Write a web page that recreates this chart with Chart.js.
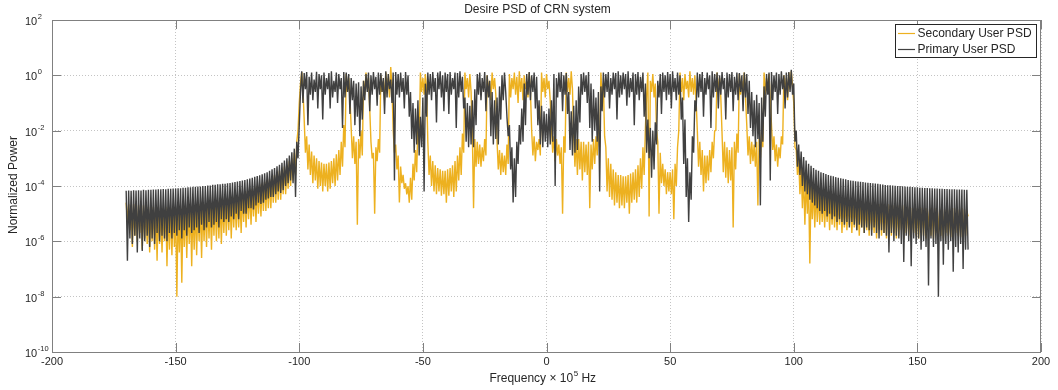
<!DOCTYPE html>
<html>
<head>
<meta charset="utf-8">
<script src="https://cdn.jsdelivr.net/npm/chart.js@4.4.1/dist/chart.umd.min.js"></script>
<style>
    html, body { margin: 0; padding: 0; background: #ffffff; }
    #contenedor { width: 1058px; height: 390px; position: relative; }
</style>
</head>
<body>
<div id="contenedor"><canvas id="psd"></canvas></div>
<script>
// valores, en log10 de la potencia normalizada
// picos: cresta de la traza en cada f entera (x 10^5 Hz), valles: fondo de la traza en f + 0.5
var freqStart = -170;

var freqTicks = [-200, -150, -100, -50, 0, 50, 100, 150, 200];
var powerTicks = [-10, -8, -6, -4, -2, 0, 2];

var seriesLabels = ['Secondary User PSD', 'Primary User PSD'];

//SECUNDARIO
var secondaryPeaks = [
    -4.6, -4.65, -4.7, -4.65, -4.7, -4.7, -4.75, -4.7, -4.75, -4.75,      // -170
    -4.7, -4.75, -4.8, -4.75, -4.8, -4.8, -4.75, -4.8, -4.8, -4.75,       // -160
    -4.8, -4.75, -4.8, -4.75, -4.75, -4.7, -4.75, -4.7, -4.7, -4.7,       // -150
    -4.65, -4.65, -4.65, -4.6, -4.6, -4.6, -4.55, -4.55, -4.5, -4.5,      // -140
    -4.45, -4.45, -4.4, -4.4, -4.35, -4.35, -4.3, -4.3, -4.25, -4.2,      // -130
    -4.15, -4.1, -4.05, -4.0, -3.95, -3.9, -3.85, -3.8, -3.75, -3.7,      // -120
    -3.6, -3.55, -3.45, -3.4, -3.3, -3.25, -3.1, -3.0, -2.8, -2.4,        // -110
    -1.0, 0.12, -1.6, -2.2, -2.5, -2.75, -2.9, -3.0, -3.1, -3.15,         // -100
    -3.2, -3.2, -3.15, -3.1, -3.0, -2.85, -2.7, -2.4, -1.8, 0.05,         // -90
    -0.1, -1.9, -2.2, -2.4, -2.3, -2.0, -0.2, 0.1, -0.1, -2.4,            // -80
    -2.8, -2.6, -2.3, 0.0, -0.2, 0.1, -0.1, 0.3, -2.0, -2.5,              // -70
    -2.9, -3.3, -3.6, -3.9, -4.0, -3.7, -3.2, -2.7, -1.8, 0.1,            // -60
    -0.1, 0.05, -2.4, -2.9, -3.1, -3.25, -3.35, -3.4, -3.45, -3.45,       // -50
    -3.4, -3.35, -3.25, -3.1, -2.9, -2.6, -2.1, 0.1, -0.1, 0.05,          // -40
    -2.1, -2.3, -2.4, -2.5, -2.6, -2.3, 0.0, -0.2, 0.1, -0.1,             // -30
    -2.4, -2.7, -2.8, -2.9, -2.5, 0.05, -0.1, 0.1, -0.05, 0.15,           // -20
    -0.1, 0.0, -0.2, 0.1, -2.0, -2.2, -2.4, -2.3, 0.1, -0.1,              // -10
    0.05, -0.2, -1.9, -2.2, -2.3, -2.5, -2.6, -2.2, 0.1, -0.1,            // 0
    0.15, -2.2, -2.3, -2.3, -2.4, -2.4, -2.5, -2.4, -2.5, -2.3,           // 10
    -2.2, -1.8, 0.1, -0.3, -2.6, -3.0, -3.2, -3.4, -3.5, -3.6,            // 20
    -3.6, -3.65, -3.65, -3.6, -3.55, -3.5, -3.4, -3.25, -3.0, -2.6,       // 30
    -1.9, 0.1, -0.2, 0.05, -0.3, -2.4, -2.8, -3.2, -3.4, -3.5,            // 40
    -3.5, -3.4, -3.2, -2.6, 0.1, -0.1, 0.05, -0.2, 0.15, -0.1,            // 50
    0.0, -2.0, -2.4, -2.7, -2.9, -2.9, -2.7, -2.4, -2.0, 0.1,             // 60
    -0.1, -2.1, -2.4, -2.6, -2.7, -2.6, -2.4, -2.1, 0.05, -0.2,           // 70
    0.1, -1.8, -2.2, -2.4, -2.5, -2.4, -2.3, -2.0, 0.1, -0.1,             // 80
    0.05, -1.8, -2.2, -2.5, -2.6, -2.2, 0.0, -0.1, 0.1, 0.15,             // 90
    -1.0, -2.7, -3.0, -3.3, -3.6, -3.7, -3.85, -3.9, -4.0, -4.1,          // 100
    -4.2, -4.25, -4.3, -4.3, -4.35, -4.4, -4.4, -4.45, -4.45, -4.45,      // 110
    -4.5, -4.5, -4.5, -4.55, -4.5, -4.55, -4.55, -4.6, -4.55, -4.6,       // 120
    -4.6, -4.6, -4.65, -4.6, -4.65, -4.65, -4.65, -4.7, -4.65, -4.7,      // 130
    -4.7, -4.7, -4.7, -4.75, -4.7, -4.75, -4.75, -4.75, -4.8, -4.75,      // 140
    -4.8, -4.75, -4.8, -4.8, -4.8, -4.8, -4.85, -4.8, -4.8, -4.85,        // 150
    -4.8, -4.85, -4.8, -4.85, -4.85, -4.8, -4.85, -4.85, -4.8, -4.85,     // 160
    -4.9                                                                   // 170
];
var secondaryDips = [
    -5.3, -5.6, -6.2, -5.8, -6.0, -5.7, -6.3, -5.9, -6.1, -6.4,           // -170
    -6.0, -6.3, -6.7, -6.1, -6.4, -6.0, -6.9, -6.3, -6.5, -6.2,           // -160
    -8.0, -6.4, -7.5, -6.2, -6.6, -6.1, -6.9, -6.3, -6.5, -6.0,           // -150
    -6.6, -6.0, -6.2, -5.9, -6.3, -5.8, -6.0, -5.9, -6.1, -5.7,           // -140
    -5.8, -5.6, -5.9, -5.5, -5.6, -5.5, -5.7, -5.3, -5.5, -5.2,           // -130
    -5.4, -5.1, -5.3, -5.0, -5.1, -4.9, -4.9, -4.8, -4.8, -4.6,           // -120
    -4.6, -4.5, -4.5, -4.3, -4.3, -4.1, -4.0, -3.8, -3.6, -2.0,           // -110
    -0.3, -0.5, -2.8, -3.4, -3.6, -3.9, -3.8, -4.1, -4.0, -4.2,           // -100
    -4.0, -4.2, -4.1, -3.9, -4.0, -3.8, -3.6, -3.3, -2.6, -0.6,           // -90
    -0.8, -3.0, -3.2, -5.4, -3.0, -2.9, -0.7, -0.5, -1.2, -3.0,           // -80
    -5.0, -3.1, -2.8, -0.6, -0.9, -0.5, -0.8, -0.4, -2.8, -3.4,           // -70
    -4.6, -3.9, -4.1, -4.3, -4.6, -4.5, -3.8, -3.5, -2.5, -0.6,           // -60
    -0.7, -0.5, -3.6, -4.0, -4.2, -4.3, -4.2, -4.35, -4.3, -4.6,          // -50
    -4.35, -4.2, -4.4, -4.2, -3.8, -3.6, -2.8, -0.5, -0.8, -0.6,          // -40
    -4.8, -3.3, -3.2, -3.3, -3.1, -2.9, -0.6, -0.9, -0.5, -0.7,           // -30
    -3.4, -3.6, -3.5, -3.6, -3.2, -0.8, -0.5, -0.7, -1.0, -0.6,           // -20
    -0.9, -0.5, -0.8, -0.6, -2.9, -3.1, -2.7, -2.9, -0.6, -0.8,           // -10
    -0.5, -0.9, -2.8, -3.1, -2.9, -3.2, -5.0, -2.8, -0.6, -0.7,           // 0
    -0.5, -3.3, -3.6, -3.4, -3.8, -3.5, -3.6, -4.8, -3.4, -3.2,           // 10
    -2.9, -2.6, -0.9, -2.2, -4.2, -4.4, -4.5, -4.7, -4.6, -4.8,           // 20
    -4.7, -4.8, -4.6, -5.0, -4.6, -4.5, -4.6, -4.4, -4.1, -3.6,           // 30
    -0.7, -5.1, -0.6, -0.8, -2.0, -5.0, -3.9, -4.0, -4.3, -4.2,           // 40
    -4.3, -5.2, -4.0, -2.0, -0.6, -0.9, -0.5, -0.8, -0.6, -0.7,           // 50
    -0.9, -3.3, -3.6, -4.2, -3.9, -3.8, -3.5, -3.0, -2.0, -0.6,           // 60
    -0.8, -3.5, -3.7, -3.9, -3.8, -5.5, -3.4, -2.8, -0.7, -0.6,           // 70
    -0.8, -2.9, -3.2, -3.1, -3.3, -4.7, -3.0, -2.6, -0.7, -0.5,           // 80
    -0.9, -2.7, -3.1, -3.3, -3.0, -2.5, -0.6, -0.9, -0.5, -0.4,           // 90
    -2.6, -3.6, -4.3, -4.8, -5.4, -5.0, -6.8, -5.2, -5.5, -5.3,           // 100
    -5.4, -5.3, -5.5, -5.3, -5.6, -5.4, -5.5, -5.6, -5.4, -5.7,           // 110
    -5.5, -5.6, -5.4, -5.7, -5.5, -5.6, -5.8, -5.5, -5.7, -5.6,           // 120
    -5.8, -5.6, -5.7, -5.9, -5.6, -5.8, -5.7, -5.9, -5.6, -5.8,           // 130
    -5.7, -5.9, -5.8, -5.6, -5.9, -5.7, -5.8, -5.9, -5.7, -5.8,           // 140
    -5.9, -5.7, -5.8, -5.9, -5.6, -5.8, -5.9, -5.7, -5.85, -5.8,          // 150
    -5.9, -5.7, -5.8, -5.85, -5.9, -5.7, -5.8, -5.85, -5.9, -5.8,         // 160
    -5.1                                                                   // 170
];

//PRIMARIO
var primaryPeaks = [
    -4.17, -4.16, -4.17, -4.15, -4.16, -4.15, -4.16, -4.14, -4.15, -4.14, // -170
    -4.14, -4.13, -4.13, -4.12, -4.12, -4.11, -4.12, -4.10, -4.10, -4.09, // -160
    -4.09, -4.08, -4.08, -4.06, -4.06, -4.05, -4.05, -4.03, -4.03, -4.02, // -150
    -4.02, -4.00, -4.00, -3.98, -3.98, -3.96, -3.96, -3.94, -3.94, -3.92, // -140
    -3.92, -3.90, -3.89, -3.87, -3.86, -3.84, -3.82, -3.80, -3.78, -3.76, // -130
    -3.73, -3.70, -3.67, -3.64, -3.61, -3.58, -3.54, -3.50, -3.45, -3.40, // -120
    -3.35, -3.29, -3.23, -3.16, -3.08, -3.00, -2.90, -2.78, -2.65, -2.40, // -110
    -1.8, 0.15, 0.08, 0.12, -0.05, 0.1, -0.15, 0.13, 0.05, 0.0,           // -100
    0.1, -0.1, 0.08, 0.15, -0.2, 0.1, 0.05, -0.1, 0.12, 0.1,              // -90
    0.05, -0.1, -0.2, -0.3, -0.25, -0.4, -0.2, 0.05, 0.1, 0.0,            // -80
    0.12, -0.05, 0.1, 0.08, -0.1, 0.15, 0.05, -0.15, 0.1, 0.12,           // -70
    0.05, 0.1, -0.1, 0.12, 0.0, -0.6, -1.0, -1.2, -0.9, -1.5,             // -60
    -0.8, -0.3, 0.1, 0.05, 0.12, -0.1, 0.1, 0.15, 0.0, 0.1,               // -50
    0.05, 0.12, -0.1, 0.1, 0.08, 0.15, -0.05, -0.8, -1.0, -1.1,           // -40
    -0.9, -0.5, 0.05, 0.1, -0.1, 0.12, 0.0, -0.2, -0.6, -0.9,             // -30
    -0.8, -0.4, 0.0, 0.1, -1.5, -1.8, -2.6, -3.0, -2.4, -1.8,             // -20
    -1.2, -0.3, 0.05, 0.12, 0.0, 0.1, -0.05, -0.9, -1.1, -1.3,            // -10
    -1.4, -1.2, -0.9, 0.05, -0.1, 0.1, 0.12, 0.0, 0.08, -0.6,             // 0
    -1.3, -1.1, -0.9, -0.4, 0.05, 0.1, 0.0, 0.12, -0.3, -0.5,             // 10
    -0.8, -0.6, -0.4, 0.1, 0.05, 0.12, -0.1, 0.1, 0.08, 0.15,             // 20
    0.0, 0.1, 0.05, 0.15, -0.1, 0.1, 0.05, 0.12, -0.05, 0.1,              // 30
    -0.3, -1.6, -1.9, -2.0, -1.7, -0.2, 0.05, 0.1, 0.0, 0.12,             // 40
    0.05, 0.15, -0.1, 0.1, 0.0, -0.8, -1.6, -3.0, -3.5, -2.2,             // 50
    -0.9, 0.1, 0.05, 0.12, -0.1, 0.1, 0.0, 0.15, 0.05, 0.1,               // 60
    0.0, 0.12, -0.1, 0.1, 0.05, 0.12, -0.05, 0.1, 0.08, 0.0,              // 70
    0.1, 0.05, -0.2, -0.6, -0.9, -0.7, -1.0, -0.8, -0.4, 0.05,            // 80
    0.1, 0.12, 0.0, 0.1, 0.05, 0.15, 0.0, 0.1, 0.12, 0.2,                 // 90
    -0.3, -2.0, -2.5, -2.75, -2.95, -3.08, -3.2, -3.27, -3.35, -3.41,     // 100
    -3.45, -3.5, -3.53, -3.57, -3.6, -3.63, -3.65, -3.68, -3.7, -3.72,    // 110
    -3.74, -3.76, -3.78, -3.8, -3.81, -3.83, -3.84, -3.85, -3.86, -3.87,  // 120
    -3.88, -3.89, -3.9, -3.91, -3.92, -3.94, -3.95, -3.96, -3.97, -3.97,  // 130
    -3.98, -3.99, -4.0, -4.0, -4.01, -4.02, -4.03, -4.03, -4.04, -4.05,   // 140
    -4.05, -4.06, -4.06, -4.07, -4.07, -4.08, -4.08, -4.09, -4.09, -4.1,  // 150
    -4.1, -4.11, -4.11, -4.12, -4.12, -4.12, -4.13, -4.13, -4.13, -4.14,  // 160
    -4.14                                                                  // 170
];
var primaryDips = [
    -6.7, -5.9, -6.1, -5.8, -6.4, -5.9, -6.35, -6.0, -5.8, -6.2,          // -170
    -5.9, -6.1, -5.7, -6.0, -5.8, -5.9, -6.0, -5.7, -5.9, -5.7,           // -160
    -5.8, -5.6, -5.9, -5.6, -5.8, -5.5, -5.7, -5.6, -5.5, -5.7,           // -150
    -5.4, -5.6, -5.5, -5.3, -5.5, -5.4, -5.3, -5.5, -5.2, -5.3,           // -140
    -5.2, -5.3, -5.1, -5.2, -5.0, -5.2, -4.9, -5.0, -5.0, -4.8,           // -130
    -4.8, -4.85, -4.7, -4.6, -4.65, -4.6, -4.5, -4.45, -4.4, -4.4,        // -120
    -4.3, -4.2, -4.25, -4.15, -4.0, -3.9, -3.8, -3.9, -4.4, -3.0,         // -110
    -0.6, -1.0, -0.5, -1.8, -0.7, -0.9, -0.6, -1.2, -0.5, -1.6,           // -100
    -0.7, -0.5, -1.2, -0.8, -0.6, -1.0, -0.5, -1.9, -0.8, -0.6,           // -90
    -1.4, -0.9, -1.8, -1.5, -2.2, -1.6, -0.9, -0.6, -1.3, -0.7,           // -80
    -0.5, -1.1, -0.7, -0.6, -1.4, -0.8, -0.5, -1.0, -3.8, -0.7,           // -70
    -0.8, -0.6, -1.2, -0.7, -1.5, -2.3, -2.8, -2.5, -2.9, -2.6,           // -60
    -4.2, -1.5, -0.7, -0.9, -0.6, -1.7, -0.5, -0.8, -1.3, -0.6,           // -50
    -1.4, -0.7, -0.5, -1.9, -0.8, -0.6, -1.2, -2.4, -2.6, -2.5,           // -40
    -2.6, -1.8, -0.7, -0.9, -0.6, -1.3, -0.8, -2.2, -2.5, -2.3,           // -30
    -2.5, -1.6, -0.9, -0.6, -2.2, -3.4, -4.6, -4.4, -3.2, -2.5,           // -20
    -2.4, -1.8, -0.7, -0.9, -0.6, -1.2, -1.8, -2.5, -2.6, -2.4,           // -10
    -2.6, -2.5, -2.4, -4.0, -0.8, -0.6, -1.3, -0.7, -1.4, -2.7,           // 0
    -2.9, -2.8, -2.7, -1.7, -0.7, -0.6, -1.0, -1.9, -2.4, -2.0,           // 10
    -2.4, -4.2, -1.3, -0.8, -0.6, -1.2, -0.7, -0.5, -1.6, -0.8,           // 20
    -0.7, -0.5, -1.1, -0.8, -0.6, -1.8, -0.7, -0.9, -0.6, -1.5,           // 30
    -2.8, -3.0, -3.7, -3.4, -2.5, -0.8, -1.4, -0.6, -0.9, -0.7,           // 40
    -1.2, -0.6, -0.9, -0.7, -1.6, -3.2, -4.4, -5.3, -4.5, -2.8,           // 50
    -1.3, -0.8, -0.6, -1.5, -0.7, -0.5, -1.9, -0.8, -0.6, -1.2,           // 60
    -0.7, -0.5, -1.6, -0.8, -0.6, -1.3, -0.7, -0.9, -0.6, -1.3,           // 70
    -0.8, -1.4, -1.9, -2.2, -2.6, -2.3, -4.7, -2.4, -1.5, -0.7,           // 80
    -3.8, -0.9, -0.6, -1.4, -0.7, -0.5, -1.2, -0.8, -0.6, -0.7,           // 90
    -2.4, -3.3, -3.6, -4.0, -4.2, -4.3, -4.5, -4.6, -4.7, -4.8,           // 100
    -4.9, -5.0, -4.9, -5.1, -5.0, -5.2, -5.1, -5.3, -5.2, -5.3,           // 110
    -5.4, -5.3, -5.5, -5.3, -5.4, -5.6, -5.4, -5.5, -5.7, -5.5,           // 120
    -5.6, -5.8, -5.5, -5.7, -5.9, -5.6, -5.7, -5.8, -6.4, -5.7,           // 130
    -6.0, -5.8, -5.9, -6.1, -6.75, -5.8, -6.0, -6.9, -5.9, -6.1,          // 140
    -5.9, -6.3, -6.0, -6.2, -7.6, -5.9, -6.2, -6.1, -8.0, -6.0,           // 150
    -6.85, -6.1, -6.3, -6.0, -7.1, -6.2, -6.4, -6.1, -7.0, -6.3,          // 160
    -6.3                                                                   // 170
];

var fuente = '"Liberation Sans", Arial, Helvetica, sans-serif';
var colorTexto = '#262626';

// cresta en f, valle en f + 0.5
function traza(inicio, picos, valles) {
    var puntos = [];
    for (var i = 0; i < picos.length; i++) {
        puntos.push({ x: inicio + i, y: Math.pow(10, picos[i]) });
        if (valles[i] !== undefined) {
            puntos.push({ x: inicio + i + 0.5, y: Math.pow(10, valles[i]) });
        }
    }
    return puntos;
}

var secundario = traza(freqStart, secondaryPeaks, secondaryDips);
var primario = traza(freqStart, primaryPeaks, primaryDips);

// marco, marcas hacia dentro, textos y leyenda estilo MATLAB
var decoracion = {
    id: 'decoracion',
    afterDraw: function (chart) {
        var ctx = chart.ctx;
        var a = chart.chartArea;
        var sx = chart.scales.x;
        var sy = chart.scales.y;
        var i, p;
        ctx.save();

        ctx.strokeStyle = '#808080';
        ctx.lineWidth = 1;
        ctx.strokeRect(a.left + 0.5, a.top + 0.5, a.right - a.left - 1, a.bottom - a.top);
        ctx.beginPath();
        for (i = 0; i < freqTicks.length; i++) {
            p = Math.round(sx.getPixelForValue(freqTicks[i])) + 0.5;
            ctx.moveTo(p, a.bottom); ctx.lineTo(p, a.bottom - 9);
            ctx.moveTo(p, a.top); ctx.lineTo(p, a.top + 9);
        }
        for (i = 0; i < powerTicks.length; i++) {
            p = Math.round(sy.getPixelForValue(Math.pow(10, powerTicks[i]))) + 0.5;
            ctx.moveTo(a.left, p); ctx.lineTo(a.left + 9, p);
            ctx.moveTo(a.right, p); ctx.lineTo(a.right - 9, p);
        }
        ctx.stroke();

        // etiquetas del eje y con exponente
        ctx.fillStyle = colorTexto;
        ctx.textAlign = 'left';
        ctx.textBaseline = 'alphabetic';
        for (i = 0; i < powerTicks.length; i++) {
            p = sy.getPixelForValue(Math.pow(10, powerTicks[i]));
            ctx.font = '11px ' + fuente;
            ctx.fillText('10', 25, p + 5);
            var w10 = ctx.measureText('10').width;
            ctx.font = '7.5px ' + fuente;
            ctx.fillText(String(powerTicks[i]), 25 + w10 + 0.5, p - 1);
        }

        // titulo
        var centro = (a.left + a.right) / 2;
        ctx.font = '12px ' + fuente;
        ctx.textAlign = 'center';
        ctx.textBaseline = 'middle';
        ctx.fillText('Desire PSD of CRN system', centro - 9, 9.5);

        // etiqueta eje x
        ctx.textAlign = 'left';
        ctx.textBaseline = 'alphabetic';
        var t1 = 'Frequency \u00d7 10', t3 = ' Hz';
        ctx.font = '12px ' + fuente;
        var w1 = ctx.measureText(t1).width, w3 = ctx.measureText(t3).width;
        ctx.font = '8px ' + fuente;
        var w2 = ctx.measureText('5').width;
        var x0 = centro - 4 - (w1 + w2 + w3) / 2;
        ctx.font = '12px ' + fuente;
        ctx.fillText(t1, x0, 382);
        ctx.font = '8px ' + fuente;
        ctx.fillText('5', x0 + w1 + 0.5, 376);
        ctx.font = '12px ' + fuente;
        ctx.fillText(t3, x0 + w1 + w2 + 0.5, 382);

        // etiqueta eje y
        ctx.save();
        ctx.translate(14, (a.top + a.bottom) / 2 - 1);
        ctx.rotate(-Math.PI / 2);
        ctx.textAlign = 'center';
        ctx.textBaseline = 'middle';
        ctx.fillText('Normalized Power', 0, 0);
        ctx.restore();

        // leyenda
        var lw = 141, lh = 33;
        var lx = a.right - 5 - lw, ly = a.top + 4;
        ctx.fillStyle = '#ffffff';
        ctx.fillRect(lx, ly, lw, lh);
        ctx.strokeStyle = '#262626';
        ctx.lineWidth = 1;
        ctx.strokeRect(lx + 0.5, ly + 0.5, lw, lh);
        ctx.font = '12px ' + fuente;
        ctx.textBaseline = 'middle';
        ctx.textAlign = 'left';
        var ds = chart.data.datasets;
        for (i = 0; i < ds.length; i++) {
            var yy = ly + 9 + i * 16;
            ctx.strokeStyle = ds[i].borderColor;
            ctx.lineWidth = 1.2;
            ctx.beginPath();
            ctx.moveTo(lx + 3, yy + 0.5);
            ctx.lineTo(lx + 20, yy + 0.5);
            ctx.stroke();
            ctx.fillStyle = colorTexto;
            ctx.fillText(ds[i].label, lx + 22.5, yy + 0.5);
        }
        ctx.restore();
    }
};

Chart.defaults.font.family = fuente;

var grafico = new Chart(document.getElementById('psd'), {
    type: 'line',
    data: {
        datasets: [{
            label: seriesLabels[0],
            data: secundario,
            borderColor: '#EDB120',
            borderWidth: 1.4,
            borderJoinStyle: 'bevel',
            pointRadius: 0,
            tension: 0,
            order: 1
        }, {
            label: seriesLabels[1],
            data: primario,
            borderColor: '#404040',
            borderWidth: 1.4,
            borderJoinStyle: 'bevel',
            pointRadius: 0,
            tension: 0,
            order: 0
        }]
    },
    options: {
        responsive: true,
        maintainAspectRatio: false,
        animation: false,
        devicePixelRatio: 1,
        layout: {
            padding: { top: 20, right: 17, left: 0, bottom: 0 }
        },
        plugins: {
            legend: { display: false },
            tooltip: { enabled: false },
            title: { display: false }
        },
        scales: {
            x: {
                type: 'linear',
                min: -200,
                max: 200,
                afterBuildTicks: function (s) {
                    s.ticks = freqTicks.map(function (v) { return { value: v }; });
                },
                afterFit: function (s) { s.height = 38; },
                ticks: {
                    color: colorTexto,
                    font: { size: 11 },
                    padding: 3,
                    maxRotation: 0,
                    autoSkip: false
                },
                grid: { color: '#c4c4c4', lineWidth: 1, drawTicks: false },
                border: { display: false, dash: [1, 2] }
            },
            y: {
                type: 'logarithmic',
                min: 1e-10,
                max: 100,
                afterBuildTicks: function (s) {
                    s.ticks = powerTicks.map(function (e) { return { value: Math.pow(10, e) }; });
                },
                afterFit: function (s) { s.width = 52; },
                ticks: { display: false },
                grid: { color: '#c4c4c4', lineWidth: 1, drawTicks: false },
                border: { display: false, dash: [1, 2] }
            }
        }
    },
    plugins: [decoracion]
});
</script>
</body>
</html>
